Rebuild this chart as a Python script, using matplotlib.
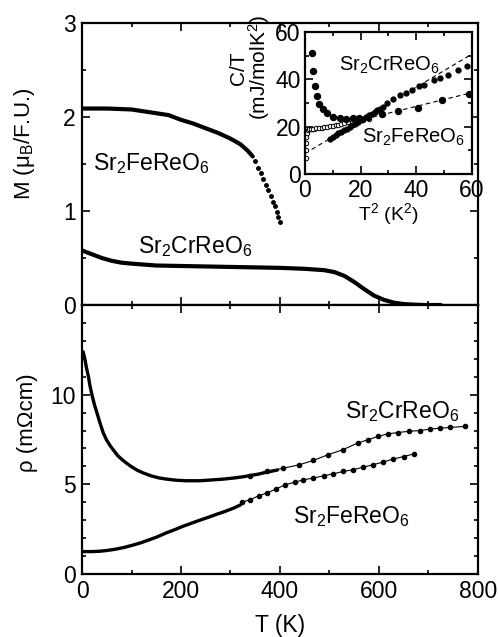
import matplotlib
matplotlib.use("Agg")
import matplotlib.pyplot as plt
from matplotlib.ticker import MultipleLocator, FixedLocator

plt.rcParams['font.family'] = ['Liberation Sans', 'DejaVu Sans']
plt.rcParams['mathtext.fontset'] = 'custom'
plt.rcParams['mathtext.rm'] = 'Liberation Sans'
plt.rcParams['mathtext.it'] = 'Liberation Sans:italic'

# magnetisation M(T)
fe_T_line = [0, 50, 100, 150, 175, 200, 225, 250, 275, 300, 320, 335, 345]
fe_M_line = [2.09, 2.09, 2.08, 2.04, 2.02, 1.97, 1.93, 1.88, 1.83, 1.77, 1.71, 1.64, 1.58]
fe_T_dots = [350, 356, 361, 366, 371, 376, 381, 386, 390, 394, 397, 401]
fe_M_dots = [1.53, 1.46, 1.40, 1.34, 1.28, 1.22, 1.16, 1.10, 1.05, 0.99, 0.94, 0.88]

cr_T = [0, 10, 20, 30, 40, 50, 60, 70, 80, 100, 150, 200, 250, 300, 350, 400, 450,
        490, 510, 530, 550, 570, 590, 610, 630, 650, 670, 690, 725]
cr_M = [0.58, 0.56, 0.54, 0.52, 0.50, 0.485, 0.47, 0.46, 0.45, 0.44, 0.42, 0.415,
        0.41, 0.405, 0.40, 0.395, 0.385, 0.37, 0.35, 0.31, 0.245, 0.17, 0.10, 0.055,
        0.025, 0.01, 0.004, 0.0, 0.0]

# resistivity rho(T)
cr_rho_T_line = [2, 4, 6, 9, 13, 16, 20, 25, 30, 36, 43, 50, 57, 63, 72, 80, 90, 100,
                 112, 124, 140, 155, 171, 190, 210, 238, 260, 285, 306, 325, 339, 355,
                 370, 395]
cr_rho_line = [12.4, 12.2, 11.95, 11.5, 11.0, 10.5, 10.0, 9.45, 9.0, 8.45, 7.86, 7.45,
               7.15, 6.93, 6.6, 6.4, 6.18, 5.98, 5.78, 5.63, 5.47, 5.36, 5.29, 5.23,
               5.2, 5.2, 5.24, 5.29, 5.35, 5.42, 5.49, 5.56, 5.66, 5.8]
cr_rho_T_dots = [339, 373, 407, 439, 467, 497, 527, 557, 578, 598, 619, 639, 661, 683,
                 703, 723, 743, 774]
cr_rho_dots = [5.47, 5.72, 5.9, 6.09, 6.33, 6.65, 6.93, 7.3, 7.49, 7.67, 7.82, 7.89,
               7.96, 8.0, 8.08, 8.13, 8.17, 8.23]

fe_rho_T_line = [2, 20, 36, 50, 67, 85, 104, 120, 135, 150, 171, 190, 202, 220, 238,
                 255, 269, 290, 306, 320]
fe_rho_line = [1.25, 1.25, 1.27, 1.31, 1.38, 1.48, 1.62, 1.75, 1.9, 2.05, 2.3, 2.5,
               2.64, 2.82, 3.0, 3.16, 3.3, 3.5, 3.67, 3.85]
fe_rho_T_dots = [323, 340, 357, 374, 391, 410, 430, 447, 467, 488, 508, 528, 548, 568,
                 588, 608, 629, 650, 671]
fe_rho_dots = [4.0, 4.15, 4.36, 4.52, 4.73, 4.97, 5.12, 5.25, 5.35, 5.47, 5.59, 5.72,
               5.81, 5.96, 6.09, 6.24, 6.41, 6.55, 6.70]

# inset C/T vs T^2
up_x = [2.4, 3.0, 3.7, 4.3, 5.0, 6.5, 7.9, 10.1, 12.5, 14.9, 17.2, 19.5, 22.8,
        27.6, 33.6, 40.5, 49.2, 58.8]
up_y = [51.3, 43.5, 37.3, 33.1, 29.4, 27.3, 25.6, 24.2, 23.5, 23.4, 23.5, 23.8, 24.2,
        25.2, 26.6, 28.1, 31.2, 34.0]

lin_x = [9, 10, 11, 12, 13, 14, 15, 16, 17, 18, 19, 20, 21, 22, 23, 24, 25, 26, 27, 28,
         29.4, 31.8, 34.2, 36.2, 38.6, 40.8, 42.9, 46.2, 48.6, 51.3, 54.9, 58.2]
lin_y = [15.0, 15.8, 16.4, 17.2, 17.8, 18.5, 19.2, 19.9, 20.6, 21.3, 22.0, 22.7, 23.4,
         24.1, 24.8, 25.5, 26.2, 26.9, 27.6, 28.4, 30.1, 31.9, 33.3, 34.3, 35.4, 37.1,
         37.8, 39.7, 40.4, 41.8, 43.9, 45.6]

open_x = [0.25, 0.3, 0.4, 0.5, 0.7, 1.0, 1.5, 2.2, 3, 4, 5, 6, 7, 8, 9, 10, 11, 12, 13,
          14, 15.5, 17, 19, 21, 23]
open_y = [6.6, 10.1, 13.0, 15.8, 17.5, 18.6, 19.0, 19.2, 19.2, 19.3, 19.4, 19.5, 19.7,
          19.9, 20.1, 20.3, 20.6, 20.9, 21.2, 21.5, 21.8, 22.1, 22.5, 23.0, 23.3]

fit_x = [0, 60]
fit_cr = [8.7, 50.7]
fit_fe = [17.0, 34.4]

fig = plt.figure(figsize=(4.98, 6.37), dpi=100)
ax1 = fig.add_axes([0.1647, 0.5212, 0.795, 0.4427])
ax2 = fig.add_axes([0.1647, 0.0989, 0.795, 0.4223])
axi = fig.add_axes([0.6124, 0.7268, 0.3353, 0.2229])


def style(ax, fs=16.5, pad=4.5):
    for s in ax.spines.values():
        s.set_linewidth(1.6)
    ax.tick_params(which='both', direction='in', top=True, right=True,
                   width=1.2, labelsize=fs, pad=pad)
    ax.tick_params(which='major', length=5.5)
    ax.tick_params(which='minor', length=3)


# top panel
ax1.plot(fe_T_line, fe_M_line, '-', color='k', lw=3, solid_capstyle='round')
ax1.plot(fe_T_dots, fe_M_dots, 'o', color='k', ms=2.5)
ax1.plot(cr_T, cr_M, '-', color='k', lw=3, solid_capstyle='round')
ax1.set_xlim(0, 800)
ax1.set_ylim(0, 3)
ax1.xaxis.set_major_locator(MultipleLocator(200))
ax1.xaxis.set_minor_locator(MultipleLocator(100))
ax1.yaxis.set_major_locator(MultipleLocator(1))
ax1.yaxis.set_minor_locator(MultipleLocator(0.5))
style(ax1)
ax1.tick_params(labelbottom=False)
ax1.set_ylabel('M (μ$_\\mathrm{B}$/F.U.)', fontsize=16)
ax1.yaxis.set_label_coords(-0.114, 0.571)
ax1.text(22, 1.51, 'Sr$_2$FeReO$_6$', fontsize=16.5, ha='left', va='center')
ax1.text(113, 0.62, 'Sr$_2$CrReO$_6$', fontsize=16.5, ha='left', va='center')

# bottom panel
ax2.plot(cr_rho_T_line, cr_rho_line, '-', color='k', lw=2.4, solid_capstyle='round')
ax2.plot(cr_rho_T_dots, cr_rho_dots, 'o-', color='k', ms=3, lw=0.8)
ax2.plot(fe_rho_T_line, fe_rho_line, '-', color='k', lw=2.4, solid_capstyle='round')
ax2.plot(fe_rho_T_dots, fe_rho_dots, 'o-', color='k', ms=3, lw=0.8)
ax2.set_xlim(0, 800)
ax2.set_ylim(0, 15)
ax2.xaxis.set_major_locator(MultipleLocator(200))
ax2.xaxis.set_minor_locator(MultipleLocator(100))
ax2.yaxis.set_major_locator(FixedLocator([0, 5, 10]))
ax2.yaxis.set_minor_locator(MultipleLocator(1))
style(ax2)
ax2.set_xlabel('T (K)', fontsize=16.5, labelpad=8)
ax2.set_ylabel('ρ (mΩcm)', fontsize=16)
ax2.yaxis.set_label_coords(-0.111, 0.563)
ax2.text(531, 9.05, 'Sr$_2$CrReO$_6$', fontsize=16.5, ha='left', va='center')
ax2.text(426, 3.18, 'Sr$_2$FeReO$_6$', fontsize=16.5, ha='left', va='center')

# inset
axi.set_facecolor('white')
axi.plot(fit_x, fit_cr, '--', color='k', lw=0.8, dashes=(4, 3))
axi.plot(fit_x, fit_fe, '--', color='k', lw=0.8, dashes=(4, 3))
axi.plot(open_x, open_y, 'o', mfc='white', mec='k', ms=3.2, mew=0.7)
axi.plot(lin_x, lin_y, 'o', color='k', ms=3.5)
axi.plot(up_x, up_y, 'o', color='k', ms=4.3)
axi.set_xlim(0, 60)
axi.set_ylim(0, 60)
axi.xaxis.set_major_locator(MultipleLocator(20))
axi.xaxis.set_minor_locator(MultipleLocator(10))
axi.yaxis.set_major_locator(MultipleLocator(20))
axi.yaxis.set_minor_locator(MultipleLocator(10))
style(axi, fs=16.5, pad=3)
axi.tick_params(axis='x', pad=3.5)
axi.set_xlabel('T$^2$ (K$^2$)', fontsize=14)
axi.xaxis.set_label_coords(0.497, -0.19)
axi.set_ylabel('C/T\n(mJ/molK$^2$)', fontsize=15, linespacing=0.9)
axi.yaxis.set_label_coords(-0.2, 0.746)
axi.text(12.2, 46, 'Sr$_2$CrReO$_6$', fontsize=14.5, ha='left', va='center')
axi.text(20.5, 15.6, 'Sr$_2$FeReO$_6$', fontsize=14.5, ha='left', va='center')

fig.savefig('out.png', dpi=100)
